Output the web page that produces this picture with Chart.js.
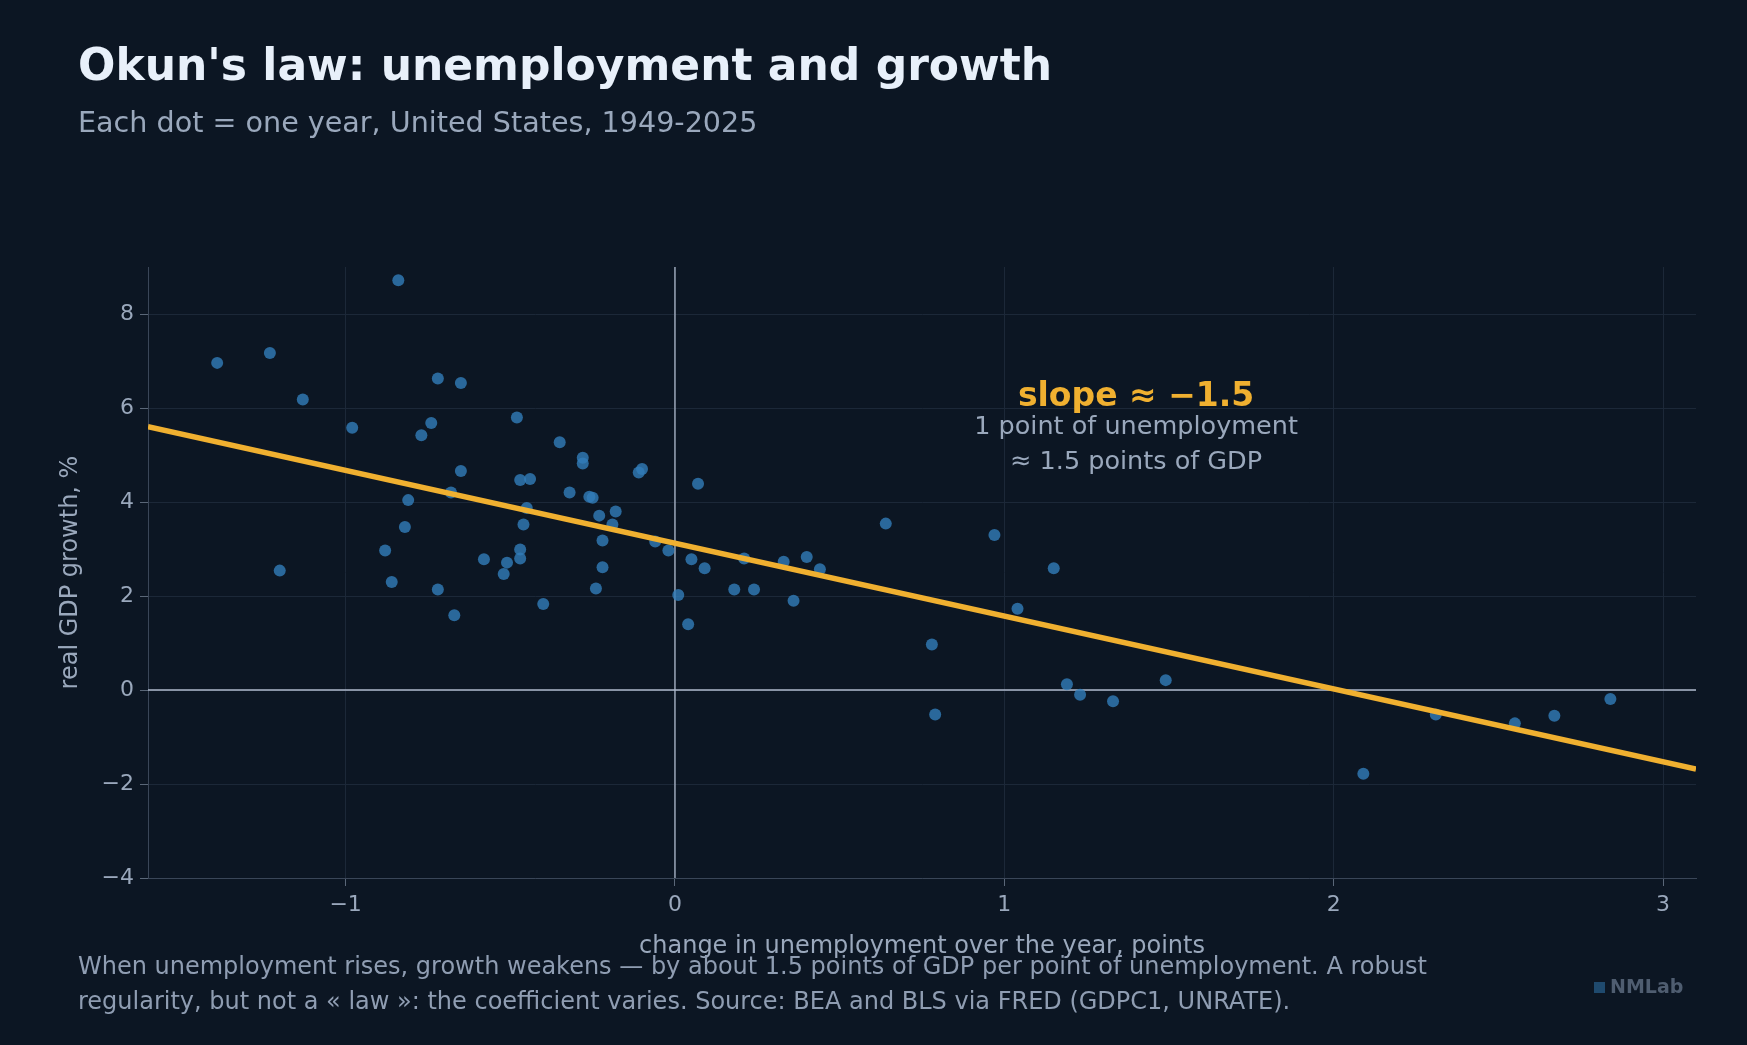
<!DOCTYPE html>
<html>
<head>
<meta charset="utf-8">
<script src="https://cdn.jsdelivr.net/npm/chart.js@4"></script>
<style>
  body { margin: 0; background: #0c1623; font-family: 'DejaVu Sans', sans-serif; }
  #wrap { position: relative; width: 1747px; height: 1045px; overflow: hidden; }
  #chart { position: absolute; left: 0; top: 0; }
  .t { position: absolute; white-space: nowrap; }
  #title { left: 78px; top: 39px; font-size: 44px; font-weight: bold; color: #e8f0fa; }
  #sub { left: 78px; top: 105px; font-size: 28.6px; color: #9aa8bc; }
  #foot { left: 78px; top: 949px; font-size: 24px; line-height: 35px; color: #8f9db2; }
  #brand { left: 1594px; top: 975px; font-size: 19px; font-weight: bold; color: #4f5d70; }
  #brand span { display: inline-block; width: 11px; height: 11px; background: #1f4a6e; margin-right: 5px; }
</style>
</head>
<body>
<div id="wrap">
  <canvas id="chart" width="1747" height="1045"></canvas>
  <div class="t" id="title">Okun's law: unemployment and growth</div>
  <div class="t" id="sub">Each dot = one year, United States, 1949-2025</div>
  <div class="t" id="foot">When unemployment rises, growth weakens — by about 1.5 points of GDP per point of unemployment. A robust<br>regularity, but not a « law »: the coefficient varies. Source: BEA and BLS via FRED (GDPC1, UNRATE).</div>
  <div class="t" id="brand"><span></span>NMLab</div>
</div>
<script>
// change in unemployment (points) per year
const unempChange = [-1.39, -1.23, -1.20, -1.13, -0.98, -0.84, -0.88, -0.86, -0.82, -0.81,
  -0.77, -0.74, -0.72, -0.72, -0.68, -0.67, -0.65, -0.65, -0.58, -0.52,
  -0.51, -0.48, -0.47, -0.47, -0.47, -0.46, -0.44, -0.45, -0.40, -0.35,
  -0.32, -0.28, -0.28, -0.26, -0.25, -0.24, -0.23, -0.22, -0.22, -0.19,
  -0.18, -0.11, -0.10, -0.06, -0.02, 0.01, 0.04, 0.05, 0.07, 0.09,
  0.18, 0.21, 0.24, 0.33, 0.36, 0.40, 0.44, 0.64, 0.78, 0.79,
  0.97, 1.04, 1.15, 1.19, 1.23, 1.33, 1.49, 2.09, 2.31, 2.55,
  2.67, 2.84]
// real GDP growth, %
const gdpGrowth = [6.96, 7.17, 2.54, 6.18, 5.58, 8.72, 2.97, 2.30, 3.47, 4.04,
  5.42, 5.68, 6.63, 2.14, 4.20, 1.59, 6.53, 4.66, 2.78, 2.47,
  2.71, 5.80, 2.80, 2.99, 4.47, 3.52, 4.49, 3.87, 1.83, 5.27,
  4.20, 4.94, 4.82, 4.11, 4.09, 2.16, 3.71, 3.18, 2.61, 3.52,
  3.80, 4.63, 4.70, 3.16, 2.97, 2.02, 1.40, 2.78, 4.39, 2.59,
  2.14, 2.80, 2.14, 2.73, 1.90, 2.83, 2.57, 3.54, 0.97, -0.52,
  3.30, 1.73, 2.59, 0.12, -0.10, -0.24, 0.21, -1.78, -0.52, -0.71,
  -0.55, -0.19]
// fitted line end points
const fitX = [-1.6, 3.1]
const fitY = [5.6, -1.68]
const xTicks = [-1, 0, 1, 2, 3]
const yTicks = [-4, -2, 0, 2, 4, 6, 8]

const minus = v => String(v).replace('-', '\u2212')
const gridColor = '#1c2838'
const tickColor = '#9aa8bc'

const zeroLines = {
  id: 'zeroLines',
  beforeDatasetsDraw(chart) {
    const { ctx, chartArea: a, scales: { x, y } } = chart
    ctx.save()
    ctx.strokeStyle = '#aeb9cc'
    ctx.lineWidth = 1.3
    ctx.beginPath()
    ctx.moveTo(x.getPixelForValue(0), a.top); ctx.lineTo(x.getPixelForValue(0), a.bottom)
    ctx.moveTo(a.left, y.getPixelForValue(0)); ctx.lineTo(a.right, y.getPixelForValue(0))
    ctx.stroke()
    ctx.restore()
  },
  afterDraw(chart) {
    const { ctx, scales: { x, y } } = chart
    const cx = x.getPixelForValue(1.4)
    ctx.save()
    ctx.textAlign = 'center'
    ctx.fillStyle = '#f0b030'
    ctx.font = 'bold 33px "DejaVu Sans"'
    ctx.fillText('slope \u2248 \u22121.5', cx, y.getPixelForValue(6.05))
    ctx.fillStyle = '#9aa8bc'
    ctx.font = '25.5px "DejaVu Sans"'
    ctx.fillText('1 point of unemployment', cx, y.getPixelForValue(5.45))
    ctx.fillText('\u2248 1.5 points of GDP', cx, y.getPixelForValue(4.7))
    ctx.restore()
  }
}

new Chart(document.getElementById('chart'), {
  type: 'scatter',
  data: {
    datasets: [
      {
        data: unempChange.map((v, i) => ({ x: v, y: gdpGrowth[i] })),
        backgroundColor: 'rgba(50,125,185,0.8)',
        borderWidth: 0,
        pointRadius: 6,
        order: 2
      },
      {
        type: 'line',
        data: fitX.map((v, i) => ({ x: v, y: fitY[i] })),
        borderColor: '#f0b030',
        borderWidth: 5.5,
        pointRadius: 0,
        order: 1
      }
    ]
  },
  options: {
    responsive: false,
    animation: false,
    layout: { padding: { top: 267, right: 51, bottom: 80, left: 52 } },
    plugins: { legend: { display: false }, tooltip: { enabled: false } },
    scales: {
      x: {
        type: 'linear', min: -1.6, max: 3.1,
        afterBuildTicks: s => { s.ticks = xTicks.map(v => ({ value: v })) },
        afterFit: s => { s.height = 87 },
        grid: { color: gridColor, drawTicks: true, tickLength: 8, tickColor: '#5a6778' },
        border: { color: '#3a4658' },
        ticks: { color: tickColor, font: { size: 22, family: 'DejaVu Sans' }, callback: minus, padding: 6 },
        title: { display: true, text: 'change in unemployment over the year, points', color: tickColor, font: { size: 24, family: 'DejaVu Sans' }, padding: { top: 20 } }
      },
      y: {
        type: 'linear', min: -4, max: 9,
        afterBuildTicks: s => { s.ticks = yTicks.map(v => ({ value: v })) },
        afterFit: s => { s.width = 96 },
        grid: { color: gridColor, tickLength: 8, tickColor: '#5a6778' },
        border: { color: '#3a4658' },
        ticks: { color: tickColor, font: { size: 22, family: 'DejaVu Sans' }, callback: minus, padding: 6 },
        title: { display: true, text: 'real GDP growth, %', color: tickColor, font: { size: 24, family: 'DejaVu Sans' }, padding: { bottom: 14 } }
      }
    }
  },
  plugins: [zeroLines]
})
</script>
</body>
</html>
